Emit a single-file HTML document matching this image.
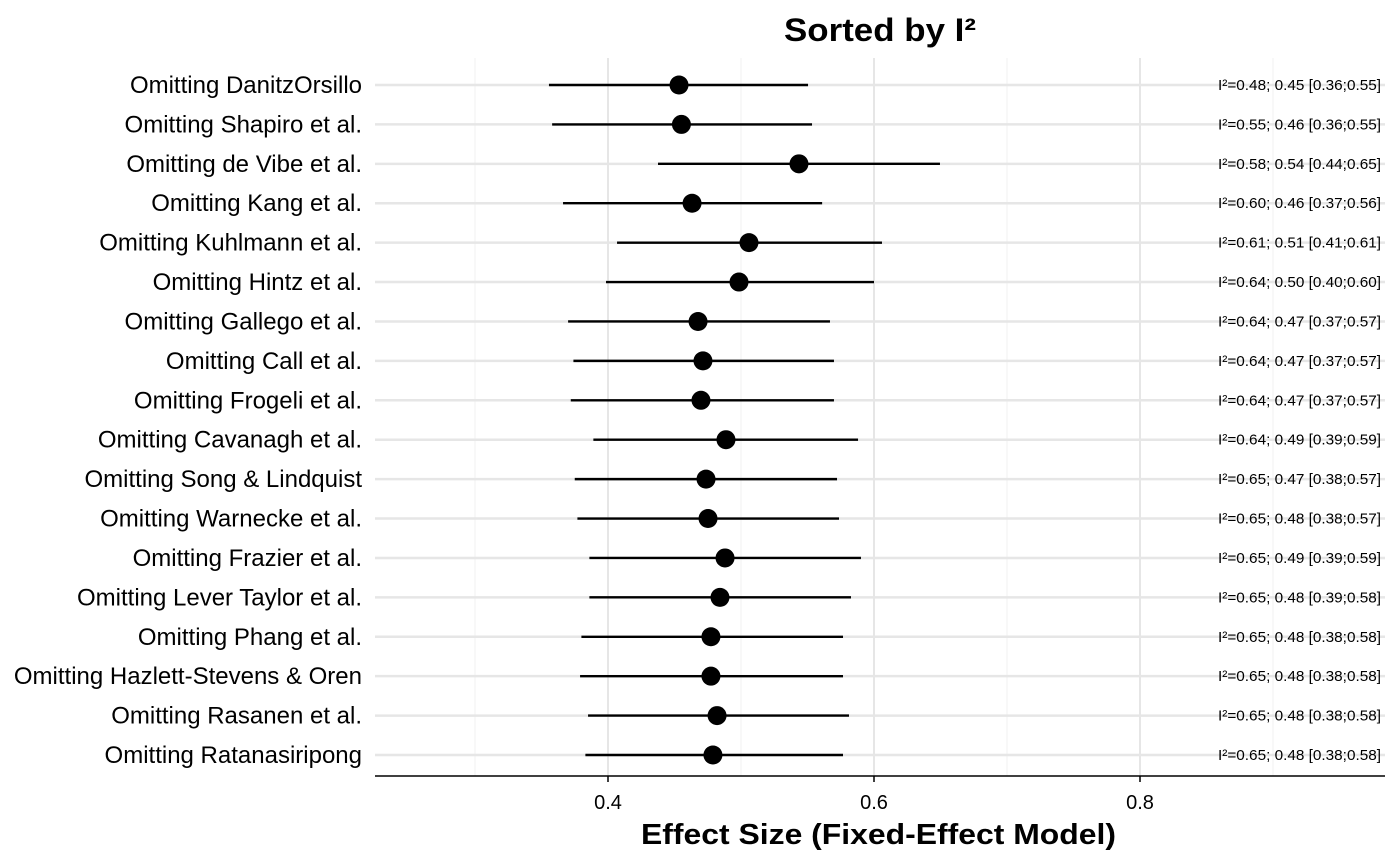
<!DOCTYPE html>
<html><head><meta charset="utf-8"><style>
body{margin:0;background:#fff}
svg{display:block;font-family:"Liberation Sans",Arial,sans-serif}
</style></head><body>
<svg id="chart" width="1400" height="866"></svg>
<script>
const labels=["Omitting DanitzOrsillo","Omitting Shapiro et al.","Omitting de Vibe et al.","Omitting Kang et al.","Omitting Kuhlmann et al.","Omitting Hintz et al.","Omitting Gallego et al.","Omitting Call et al.","Omitting Frogeli et al.","Omitting Cavanagh et al.","Omitting Song & Lindquist","Omitting Warnecke et al.","Omitting Frazier et al.","Omitting Lever Taylor et al.","Omitting Phang et al.","Omitting Hazlett-Stevens & Oren","Omitting Rasanen et al.","Omitting Ratanasiripong"];
const est=[0.4534,0.4552,0.5436,0.4632,0.5060,0.4985,0.4677,0.4714,0.4699,0.4887,0.4737,0.4752,0.4880,0.4842,0.4774,0.4774,0.4820,0.4789];
const lower=[0.3556,0.3580,0.4376,0.3662,0.4068,0.3985,0.3700,0.3740,0.3720,0.3890,0.3750,0.3770,0.3860,0.3860,0.3800,0.3790,0.3850,0.3830];
const upper=[0.5504,0.5534,0.6496,0.5610,0.6060,0.6000,0.5669,0.5699,0.5699,0.5880,0.5722,0.5737,0.5902,0.5827,0.5767,0.5767,0.5812,0.5767];
const annot=["I²=0.48; 0.45 [0.36;0.55]","I²=0.55; 0.46 [0.36;0.55]","I²=0.58; 0.54 [0.44;0.65]","I²=0.60; 0.46 [0.37;0.56]","I²=0.61; 0.51 [0.41;0.61]","I²=0.64; 0.50 [0.40;0.60]","I²=0.64; 0.47 [0.37;0.57]","I²=0.64; 0.47 [0.37;0.57]","I²=0.64; 0.47 [0.37;0.57]","I²=0.64; 0.49 [0.39;0.59]","I²=0.65; 0.47 [0.38;0.57]","I²=0.65; 0.48 [0.38;0.57]","I²=0.65; 0.49 [0.39;0.59]","I²=0.65; 0.48 [0.39;0.58]","I²=0.65; 0.48 [0.38;0.58]","I²=0.65; 0.48 [0.38;0.58]","I²=0.65; 0.48 [0.38;0.58]","I²=0.65; 0.48 [0.38;0.58]"];
const majorTicks=[0.4,0.6,0.8];
const minorTicks=[0.3,0.5,0.7,0.9];
const tickLabels=["0.4","0.6","0.8"];

const svg=document.getElementById('chart');
const NS='http://www.w3.org/2000/svg';
const X0=375,X1=1385,Y0=58,YA=776;
const x=v=>608+(v-0.4)*1330;
const y=i=>85+i*(670/17);
function mk(t,a,txt){const e=document.createElementNS(NS,t);for(const k in a)e.setAttribute(k,a[k]);if(txt!==undefined)e.textContent=txt;svg.appendChild(e);return e;}

minorTicks.forEach(v=>{const e=mk('line',{x1:x(v),x2:x(v),y1:Y0,y2:YA,stroke:'#f0f0f0','stroke-width':1});

});
majorTicks.forEach(v=>{const e=mk('line',{x1:x(v),x2:x(v),y1:Y0,y2:YA,stroke:'#e6e6e6','stroke-width':2});

});
labels.forEach((l,i)=>{const e=mk('line',{x1:X0,x2:X1,y1:y(i),y2:y(i),stroke:'#e6e6e6','stroke-width':2.5});

});

const ax=mk('line',{x1:X0,x2:X1,y1:YA,y2:YA,stroke:'#000','stroke-width':1.5});


majorTicks.forEach((v,i)=>{
 const tk=mk('line',{x1:x(v),x2:x(v),y1:YA,y2:YA+6,stroke:'#000','stroke-width':1.5});
 
 
 const t=mk('text',{x:x(v),y:809,'text-anchor':'middle','font-size':20,fill:'#000'},tickLabels[i]);
 
 });

labels.forEach((l,i)=>{
 const t=mk('text',{x:362,y:y(i)+8,'text-anchor':'end','font-size':24,fill:'#000'},l);
 
 
 const ci=mk('line',{x1:x(lower[i]),x2:x(upper[i]),y1:y(i),y2:y(i),stroke:'#000','stroke-width':2.4});
 
 
 const p=mk('circle',{cx:x(est[i]),cy:y(i),r:9.5,fill:'#000'});
 
 
 const a=mk('text',{x:1218,y:y(i)+5,'font-size':15,fill:'#000',textLength:163,lengthAdjust:'spacingAndGlyphs'},annot[i]);
 
 
});

const tt=mk('text',{x:784,y:41,'font-size':32,'font-weight':'bold',textLength:192,lengthAdjust:'spacingAndGlyphs'},'Sorted by I²');


const xt=mk('text',{x:641,y:844,'font-size':29,'font-weight':'bold',textLength:475,lengthAdjust:'spacingAndGlyphs'},'Effect Size (Fixed-Effect Model)');


</script>
</body></html>
